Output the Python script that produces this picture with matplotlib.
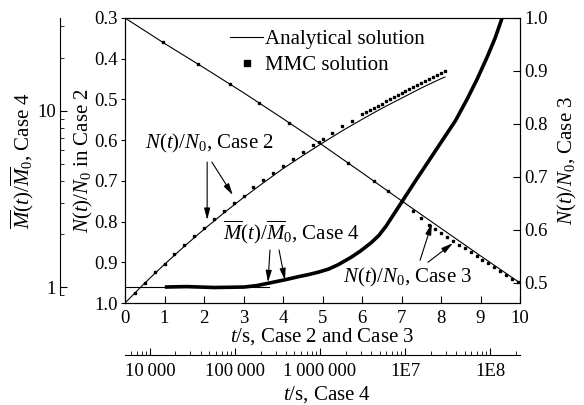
"""
Decay curves N(t)/N0 (Case 2, Case 3) and mean size M(t)/M0 (Case 4):
analytical solution vs MMC solution, with the Case 4 axes drawn offset.
"""

import matplotlib
matplotlib.use("Agg")
import matplotlib.pyplot as plt
from matplotlib.lines import Line2D
from matplotlib.ticker import FixedLocator, FixedFormatter, LogLocator, NullFormatter

plt.rcParams["font.family"] = ["Liberation Serif", "DejaVu Serif"]
plt.rcParams["mathtext.fontset"] = "custom"
plt.rcParams["mathtext.rm"] = "Liberation Serif"
plt.rcParams["mathtext.it"] = "Liberation Serif:italic"

# Case 2 (left axis, inverted)
case2_t = [0, 0.5, 1, 1.5, 2, 2.5, 3, 3.5, 4, 4.5, 5, 5.5, 6, 6.5, 7, 7.5, 8, 8.1]
case2_n = [1.0, 0.951, 0.905, 0.861, 0.819, 0.779, 0.741, 0.705, 0.670, 0.638,
           0.607, 0.577, 0.549, 0.522, 0.497, 0.472, 0.449, 0.445]
case2_mmc_t = [0.25, 0.5, 0.75, 1.0, 1.25, 1.5, 1.75, 2.0, 2.25, 2.5, 2.75, 3.0,
               3.25, 3.5, 3.75, 4.0, 4.25, 4.5, 4.75, 5.0, 5.25, 5.5, 5.75, 6.0,
               6.1, 6.2, 6.3, 6.4, 6.5, 6.6, 6.7, 6.8, 6.9, 7.0, 7.1, 7.2, 7.3,
               7.4, 7.5, 7.6, 7.7, 7.8, 7.9, 8.0, 8.1]
case2_mmc_n = [0.975, 0.950, 0.925, 0.903, 0.880, 0.857, 0.836, 0.815, 0.793,
               0.775, 0.754, 0.736, 0.716, 0.698, 0.681, 0.663, 0.646, 0.629,
               0.613, 0.597, 0.582, 0.566, 0.552, 0.537, 0.532, 0.526, 0.521,
               0.515, 0.510, 0.505, 0.499, 0.494, 0.489, 0.484, 0.479, 0.474,
               0.469, 0.464, 0.459, 0.455, 0.450, 0.445, 0.440, 0.435, 0.430]

# Case 3 (right axis)
case3_t = [0, 1, 2, 3, 4, 5, 6, 7, 8, 9, 10]
case3_n = [1.0, 0.952, 0.906, 0.859, 0.810, 0.760, 0.708, 0.655, 0.603, 0.551, 0.5]
case3_mmc_t = [0.95, 1.85, 2.65, 3.4, 4.15, 4.9, 5.65, 6.3, 6.65, 7.0, 7.3, 7.5,
               7.7, 7.85, 8.0, 8.15, 8.3, 8.45, 8.6, 8.75, 8.9, 9.05, 9.2, 9.35,
               9.5, 9.65, 9.8, 9.95]
case3_mmc_n = [0.955, 0.913, 0.875, 0.839, 0.802, 0.765, 0.726, 0.692, 0.673,
               0.655, 0.636, 0.622, 0.610, 0.602, 0.594, 0.587, 0.579, 0.572,
               0.565, 0.558, 0.551, 0.544, 0.537, 0.530, 0.523, 0.515, 0.508, 0.501]

# Case 4 (far-left log axis vs bottom log time axis)
case4_t = [1.5e4, 2.70e4, 5.73e4, 1.28e5, 1.82e5, 2.51e5, 3.96e5, 5.62e5,
           7.34e5, 9.61e5, 1.26e6, 1.64e6, 2.33e6, 2.97e6, 3.99e6, 4.94e6,
           5.96e6, 8.92e6, 1.335e7, 2.41e7, 3.91e7, 5.39e7, 7.05e7, 9.23e7,
           1.144e8, 1.38e8]
case4_m = [1.0, 1.006, 0.994, 1.0, 1.020, 1.053, 1.102, 1.146, 1.177, 1.215,
           1.264, 1.340, 1.477, 1.597, 1.784, 1.967, 2.212, 2.983, 4.023, 6.180,
           8.781, 11.69, 15.16, 20.19, 25.85, 33.53]
case4_flat_t = [5100, 2.5e5]
case4_flat_m = [1.0, 1.0]

case4_xticks = [1e4, 1e5, 1e6, 1e7, 1e8]
case4_xlabels = ["10\u2009000", "100\u2009000", "1\u2009000\u2009000", "1E7", "1E8"]

FS = 15
TFS = 13.5

fig = plt.figure(figsize=(5.84, 4.05), dpi=100)
rect = [125 / 584, 102 / 405, 395 / 584, 285 / 405]
ax = fig.add_axes(rect)

ax.plot(case2_t, case2_n, color="black", lw=0.8)
ax.plot(case2_mmc_t, case2_mmc_n, ls="none", marker="s", ms=2, color="black")
ax.set_xlim(0, 10)
ax.set_ylim(1.0, 0.3)
ax.set_xticks(range(11))
ax.set_yticks([0.3, 0.4, 0.5, 0.6, 0.7, 0.8, 0.9, 1.0])
ax.set_yticklabels(["0.3", "0.4", "0.5", "0.6", "0.7", "0.8", "0.9", "1.0"])
ax.tick_params(axis="x", direction="in", length=5, labelsize=TFS, pad=5)
ax.tick_params(axis="y", direction="out", length=3, labelsize=TFS, pad=2)
ax.set_xlabel("$t$/s, Case 2 and Case 3", fontsize=FS)
ax.xaxis.set_label_coords(0.5, -0.08)
ax.set_ylabel("$N(t)/N_0$ in Case 2", fontsize=FS)
ax.yaxis.set_label_coords(-0.075, 0.5)

ax3 = ax.twinx()
ax3.plot(case3_t, case3_n, color="black", lw=0.8)
ax3.plot(case3_mmc_t, case3_mmc_n, ls="none", marker="s", ms=2, color="black")
ax3.set_ylim(0.462, 1.0)
ax3.set_yticks([0.5, 0.6, 0.7, 0.8, 0.9, 1.0])
ax3.set_yticklabels(["0.5", "0.6", "0.7", "0.8", "0.9", "1.0"])
ax3.tick_params(axis="y", direction="in", length=5, labelsize=TFS, pad=3)
ax3.set_ylabel("$N(t)/N_0$, Case 3", fontsize=FS)
ax3.yaxis.set_label_coords(1.09, 0.5)

ax4 = fig.add_axes(rect)
ax4.patch.set_visible(False)
ax4.plot(case4_flat_t, case4_flat_m, color="black", lw=0.8)
ax4.plot(case4_t, case4_m, color="black", lw=2.6, solid_capstyle="butt",
         solid_joinstyle="round")
ax4.set_xscale("log")
ax4.set_yscale("log")
ax4.set_xlim(10 ** 3.708, 10 ** 8.35)
ax4.set_ylim(0.812, 33.5)
for side in ("top", "right"):
    ax4.spines[side].set_visible(False)
ax4.spines["left"].set_position(("outward", 65 * 0.72))
ax4.spines["left"].set_bounds(0.9, 33.5)
ax4.spines["bottom"].set_position(("outward", 52 * 0.72))
ax4.xaxis.set_major_locator(FixedLocator(case4_xticks))
ax4.xaxis.set_major_formatter(FixedFormatter(case4_xlabels))
ax4.xaxis.set_minor_locator(LogLocator(base=10, subs=range(2, 10)))
ax4.xaxis.set_minor_formatter(NullFormatter())
ax4.yaxis.set_major_locator(FixedLocator([1, 10]))
ax4.yaxis.set_major_formatter(FixedFormatter(["1", "10"]))
ax4.yaxis.set_minor_locator(FixedLocator([0.9, 2, 3, 4, 5, 6, 7, 8, 9, 20, 30]))
ax4.yaxis.set_minor_formatter(NullFormatter())
ax4.tick_params(which="major", direction="in", length=5, labelsize=TFS)
ax4.tick_params(axis="x", which="major", pad=6)
ax4.tick_params(axis="y", which="major", pad=3)
ax4.tick_params(which="minor", direction="in", length=3)
ax4.set_xlabel("$t$/s, Case 4", fontsize=FS)
ax4.xaxis.set_label_coords(0.511, -0.285)
ax4.set_ylabel(r"$\overline{M}(t)/\overline{M}_0$, Case 4", fontsize=FS)
ax4.yaxis.set_label_coords(-0.225, 0.5)

# legend
handles = [Line2D([], [], color="black", lw=0.8),
           Line2D([], [], ls="none", marker="s", ms=4, color="black")]
ax.legend(handles, ["Analytical solution", "MMC solution"], loc="upper left",
          bbox_to_anchor=(0.266, 0.96), frameon=False, borderpad=0,
          borderaxespad=0, handlelength=1.6, handletextpad=0.1,
          labelspacing=0.3, fontsize=FS)

# annotations
arrow = dict(arrowstyle="-|>,head_length=0.7,head_width=0.18", color="black",
             lw=0.8, shrinkA=0, shrinkB=0)
ax.text(0.51, 0.607, "$N(t)/N_0$, Case 2", fontsize=FS, va="center", ha="left")
ax.annotate("", xy=(2.08, 0.796), xytext=(2.08, 0.654), arrowprops=arrow)
ax.annotate("", xy=(2.73, 0.735), xytext=(2.2, 0.654), arrowprops=arrow)

ax.text(2.48, 0.826, r"$\overline{M}(t)/\overline{M}_0$, Case 4", fontsize=FS,
        va="center", ha="left")
ax.annotate("", xy=(3.62, 0.949), xytext=(3.67, 0.870), arrowprops=arrow)
ax.annotate("", xy=(4.05, 0.944), xytext=(3.90, 0.870), arrowprops=arrow)

ax.text(5.52, 0.938, "$N(t)/N_0$, Case 3", fontsize=FS, va="center", ha="left")
ax.annotate("", xy=(7.77, 0.804), xytext=(7.47, 0.895), arrowprops=arrow)
ax.annotate("", xy=(8.30, 0.853), xytext=(7.67, 0.900), arrowprops=arrow)

fig.savefig("out.png", dpi=100)
